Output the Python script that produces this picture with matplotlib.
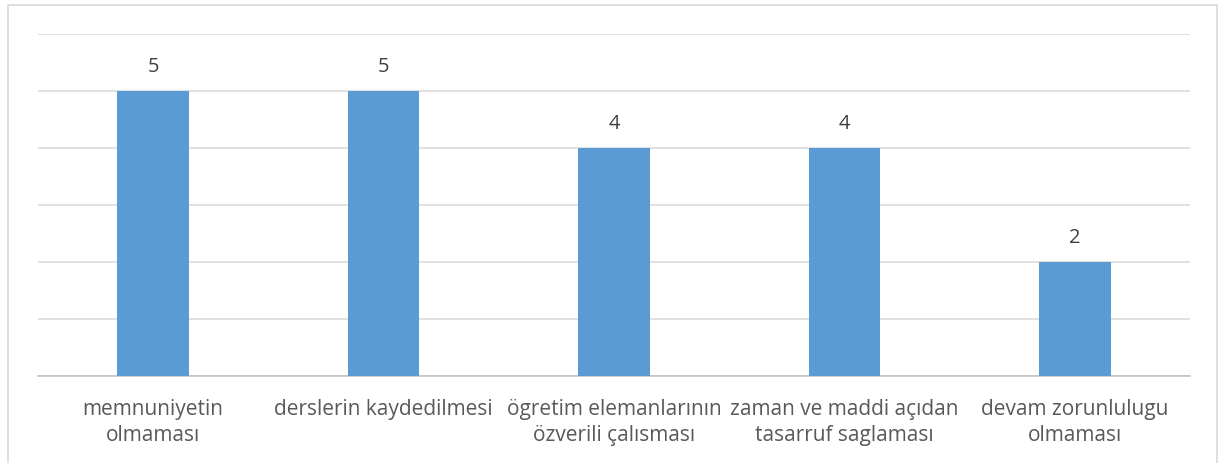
import matplotlib.pyplot as plt
from matplotlib.patches import Rectangle

plt.rcParams['font.family'] = ['Open Sans', 'DejaVu Sans']

labels = ['memnuniyetin\nolmaması',
          'derslerin kaydedilmesi',
          'ögretim elemanlarının\nözverili çalısması',
          'zaman ve maddi açıdan\ntasarruf saglaması',
          'devam zorunlulugu\nolmaması']
counts = [5, 5, 4, 4, 2]

W, H = 1219, 464
fig = plt.figure(figsize=(W / 100, H / 100), dpi=100)
ax = fig.add_axes([38 / W, 1 - 377 / H, (1190 - 38) / W, (377 - 35) / H])

x = range(len(labels))
bars = ax.bar(x, counts, width=0.31, color='#5b9bd5', zorder=3)
for b, v in zip(bars, counts):
    ax.annotate(str(v), (b.get_x() + b.get_width() / 2, v), xytext=(0, 25),
                textcoords='offset pixels', ha='center', va='center',
                fontsize=14.5, color='#404040')

ax.set_xlim(-0.5, 4.5)
ax.set_ylim(0, 6)
ax.set_yticks(range(0, 7))
ax.yaxis.grid(True, color='#d9d9d9', linewidth=1.1, zorder=0)
ax.tick_params(axis='y', left=False, labelleft=False)
ax.set_xticks(list(x))
ax.set_xticklabels(labels, fontsize=15, color='#595959', linespacing=1.32)
ax.tick_params(axis='x', length=0, pad=16)
for s in ['top', 'left', 'right']:
    ax.spines[s].set_visible(False)
ax.spines['bottom'].set_color('#bfbfbf')
ax.spines['bottom'].set_linewidth(1.1)

fig.patches.append(Rectangle((8 / W, -0.05), (1217 - 8) / W, 1.05 - 6 / H,
                             transform=fig.transFigure, fill=False,
                             edgecolor='#d9d9d9', linewidth=1.2))

fig.savefig('out.png', dpi=100)
